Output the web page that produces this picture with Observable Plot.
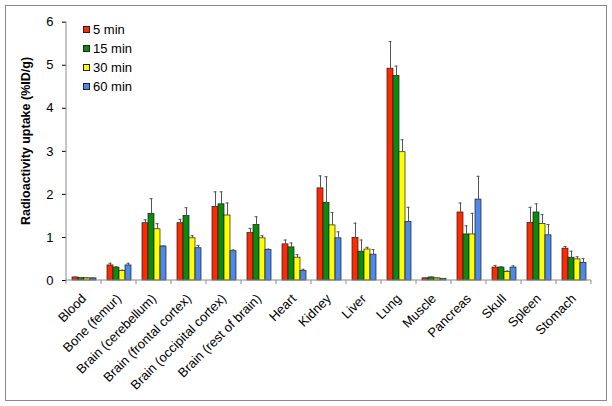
<!DOCTYPE html>
<html>
<head>
<meta charset="utf-8">
<script src="https://cdn.jsdelivr.net/npm/d3@7"></script>
<script src="https://cdn.jsdelivr.net/npm/@observablehq/plot@0.6"></script>
<style>
  body { margin: 0; background: #fff; font-family: "Liberation Sans", Arial, sans-serif; }
  #wrap { position: relative; width: 612px; height: 406px; }
  #border { position: absolute; left: 5px; top: 5px; width: 600px; height: 394px; border: 1px solid #8a8a8a; pointer-events: none; }
  #ytitle { position: absolute; left: 26px; top: 141px; transform: translate(-50%, -50%) rotate(-90deg); font-weight: bold; font-size: 12.5px; white-space: nowrap; color: #000; }
  #legend { position: absolute; left: 83px; top: 20px; font-size: 13px; color: #000; }
  #legend .row { height: 19px; display: flex; align-items: center; }
  #legend .sw { width: 5px; height: 5px; border: 1px solid #222; margin-right: 3px; }
</style>
</head>
<body>
<div id="wrap">
  <div id="chart"></div>
  <div id="ytitle">Radioactivity uptake (%ID/g)</div>
  <div id="legend"></div>
  <div id="border"></div>
</div>
<script>
const organs = ["Blood","Bone (femur)","Brain (cerebellum)","Brain (frontal cortex)","Brain (occipital cortex)","Brain (rest of brain)","Heart","Kidney","Liver","Lung","Muscle","Pancreas","Skull","Spleen","Stomach"];
const times = ["5 min","15 min","30 min","60 min"];
const colors = ["#ff2a00","#0b8a0b","#ffff00","#4d88ec"];
const mean5  = [0.07,0.35,1.33,1.33,1.71,1.10,0.84,2.14,0.99,4.92,0.05,1.58,0.30,1.34,0.74];
const sd5    = [0.01,0.05,0.08,0.09,0.35,0.11,0.10,0.29,0.34,0.63,0.01,0.22,0.05,0.36,0.05];
const mean15 = [0.06,0.30,1.55,1.50,1.77,1.29,0.77,1.80,0.67,4.75,0.07,1.07,0.30,1.58,0.53];
const sd15   = [0.01,0.02,0.35,0.19,0.29,0.19,0.10,0.61,0.27,0.23,0.01,0.20,0.02,0.20,0.15];
const mean30 = [0.05,0.22,1.19,0.98,1.51,0.98,0.53,1.28,0.72,2.98,0.05,1.07,0.20,1.31,0.49];
const sd30   = [0.01,0.02,0.13,0.06,0.29,0.06,0.07,0.30,0.05,0.29,0.005,0.49,0.02,0.22,0.06];
const mean60 = [0.05,0.35,0.79,0.75,0.68,0.71,0.22,0.98,0.60,1.36,0.04,1.88,0.30,1.05,0.41];
const sd60   = [0.005,0.05,0.01,0.06,0.03,0.02,0.04,0.15,0.12,0.34,0.005,0.54,0.04,0.25,0.10];
const yTicks = [0,1,2,3,4,5,6];

const means = [mean5, mean15, mean30, mean60];
const sds = [sd5, sd15, sd30, sd60];
const data = [];
organs.forEach((o, i) => times.forEach((t, j) => {
  data.push({organ: o, time: t, value: means[j][i], top: means[j][i] + sds[j][i]});
}));

function axisLines(index, scales, values, dims) {
  const g = d3.create("svg:g").attr("stroke", "#8c8c8c").attr("stroke-width", 1);
  const left = dims.marginLeft, right = dims.width - dims.marginRight;
  const yb = dims.height - dims.marginBottom, yt = dims.marginTop;
  const y0 = scales.y ? scales.y(0) : yb;
  const y6 = scales.y ? scales.y(6) : yt;
  g.append("line").attr("x1", left).attr("x2", left).attr("y1", y6).attr("y2", y0);
  g.append("line").attr("x1", left).attr("x2", right).attr("y1", y0).attr("y2", y0);
  let fx = scales.fx;
  if (!fx) fx = d3.scaleBand().domain(organs).range([left, right]);
  const edges = organs.map(o => fx(o)).concat([fx(organs[organs.length - 1]) + fx.bandwidth()]);
  edges.forEach(x => g.append("line").attr("x1", x).attr("x2", x).attr("y1", y0).attr("y2", y0 + 4));
  return g.node();
}

const chart = Plot.plot({
  width: 612,
  height: 406,
  marginLeft: 62,
  marginRight: 16.5,
  marginTop: 21.7,
  marginBottom: 126,
  style: {fontFamily: "Liberation Sans, Arial, sans-serif", fontSize: "13px", color: "#000", background: "transparent"},
  fx: {domain: organs, padding: 0, label: null, tickRotate: -45, tickSize: 0, tickPadding: 16},
  x: {domain: times, paddingInner: 0, paddingOuter: 0.667, axis: null},
  y: {domain: [0, 6], ticks: yTicks, tickSize: 4, tickPadding: 9, label: null, tickFormat: d3.format("d")},
  color: {domain: times, range: colors},
  marks: [
    Plot.barY(data, {fx: "organ", x: "time", y: "value", fill: "time", stroke: "#1a1a1a", strokeWidth: 0.7}),
    Plot.ruleX(data, {fx: "organ", x: "time", y1: "value", y2: "top", stroke: "#555", strokeWidth: 1}),
    Plot.tickY(data, {fx: "organ", x: "time", y: "top", stroke: "#555", strokeWidth: 1, insetLeft: 1.5, insetRight: 1.5}),
    Plot.frame({facet: "super", render: (index, scales, values, dims) => axisLines(index, scales, values, dims)})
  ]
});
chart.style.position = "absolute";
chart.style.left = "0px";
chart.style.top = "0px";
document.getElementById("chart").appendChild(chart);

const leg = document.getElementById("legend");
times.forEach((t, j) => {
  const row = document.createElement("div");
  row.className = "row";
  const sw = document.createElement("div");
  sw.className = "sw";
  sw.style.background = colors[j];
  const lab = document.createElement("span");
  lab.textContent = t;
  row.appendChild(sw);
  row.appendChild(lab);
  leg.appendChild(row);
});
</script>
</body>
</html>
